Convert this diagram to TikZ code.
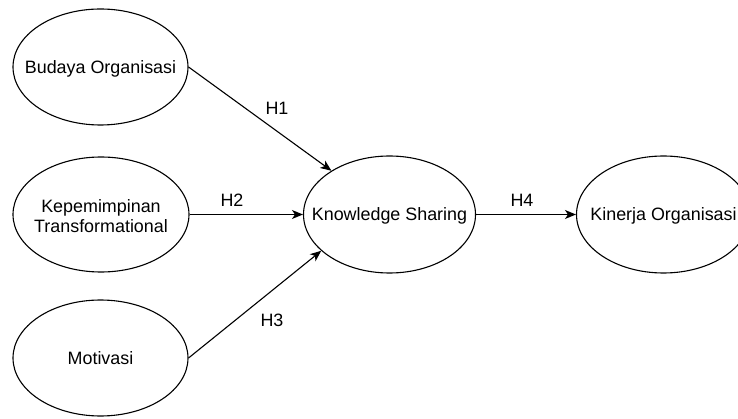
\documentclass[tikz,border=0pt]{standalone}
\usepackage{fontspec}
\setmainfont{Liberation Sans}
\usetikzlibrary{shapes.geometric,arrows.meta}
\begin{document}
\begin{tikzpicture}[x=1pt,y=-1pt,
  ell/.style={draw=black,line width=1.1pt,ellipse,inner sep=0pt},
  txt/.style={font=\fontsize{17.9}{20.5}\selectfont,inner sep=0pt,align=center,text height=12.7pt,text depth=0pt},
  lbl/.style={font=\fontsize{17.9}{20.5}\selectfont,inner sep=0pt,text height=12.7pt,text depth=0pt},
  conn/.style={draw=black,line width=1.1pt,-{Stealth[length=11pt,width=9pt,inset=3pt]}}]
\useasboundingbox (0,0) rectangle (738,419);
\clip (0,0) rectangle (738,419);
\node[ell,minimum width=175pt,minimum height=116pt] (bud) at (100.5,67) {};
\node[ell,minimum width=176pt,minimum height=115pt] (kep) at (101,214.5) {};
\node[ell,minimum width=175pt,minimum height=116pt] (mot) at (100.5,358) {};
\node[ell,minimum width=172pt,minimum height=117pt] (ks) at (389.5,214.5) {};
\node[ell,minimum width=174pt,minimum height=117pt] (kin) at (663.5,214.5) {};
\node[txt] (tbud) at (bud) {Budaya Organisasi};
\node[font=\fontsize{17.9}{20.5}\selectfont,inner sep=0pt,align=center] (tkep) at (101,216) {Kepemimpinan\\Transformational};
\node[txt] (tmot) at (mot) {Motivasi};
\node[txt] (tks) at (ks) {Knowledge Sharing};
\node[txt] (tkin) at (kin) {Kinerja Organisasi};
\draw[conn] (bud.east) -- (ks.143.6);
\draw[conn] (kep.east) -- (ks.west);
\draw[conn] (mot.east) -- (ks.208);
\draw[conn] (ks.east) -- (kin.west);
\node[lbl] (h1) at (277,108) {H1};
\node[lbl] (h2) at (232,200) {H2};
\node[lbl] (h3) at (272,320) {H3};
\node[lbl] (h4) at (522,200) {H4};
\end{tikzpicture}
\end{document}
